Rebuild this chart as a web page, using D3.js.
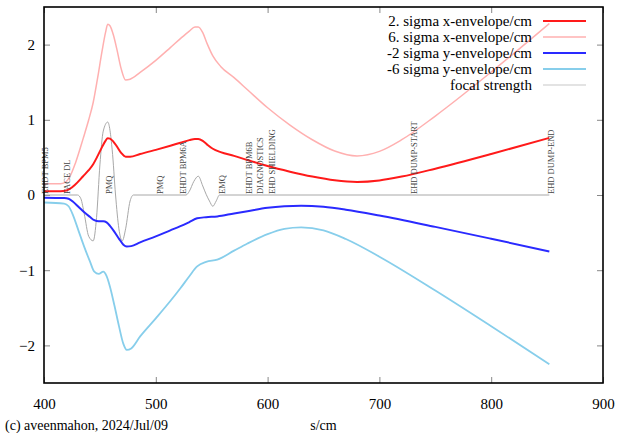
<!DOCTYPE html>
<html><head><meta charset="utf-8">
<script src="https://cdn.jsdelivr.net/npm/d3@7"></script>
<style>body{margin:0;background:#fff}svg{display:block}text{font-family:"Liberation Serif","DejaVu Serif",serif}</style>
</head><body><svg id="c" width="620" height="433"></svg>
<script>
// ---- data ----
const redX  = [400,415,420,423,428,435,440,444,448,452,455,457,459,462,465,469,473,477,486,500,513,522,530,535,538,542,546,551,558,570,582,600,620,640,660,680,700,720,750,800,852];
const redY  = [0.05,0.05,0.06,0.08,0.14,0.25,0.33,0.41,0.52,0.64,0.72,0.755,0.75,0.71,0.65,0.56,0.51,0.51,0.545,0.6,0.655,0.695,0.73,0.745,0.745,0.72,0.67,0.615,0.57,0.52,0.465,0.385,0.31,0.245,0.195,0.173,0.193,0.245,0.35,0.545,0.76];
const pinkY = [0.15,0.15,0.18,0.24,0.42,0.75,1.0,1.23,1.56,1.92,2.16,2.27,2.25,2.13,1.95,1.68,1.53,1.54,1.63,1.79,1.96,2.08,2.18,2.235,2.235,2.16,2.01,1.85,1.71,1.56,1.4,1.16,0.93,0.735,0.585,0.52,0.58,0.735,1.05,1.635,2.28];
const blueX = [400,418,422,426,431,436,441,445,449,453,456,459,463,467,471,474,478,486,500,513,522,530,537,545,555,570,582,600,615,630,650,670,700,750,800,852];
const blueY = [-0.035,-0.04,-0.05,-0.09,-0.16,-0.23,-0.29,-0.335,-0.35,-0.35,-0.365,-0.41,-0.49,-0.58,-0.66,-0.685,-0.68,-0.63,-0.55,-0.47,-0.415,-0.36,-0.31,-0.295,-0.285,-0.245,-0.215,-0.17,-0.15,-0.143,-0.157,-0.195,-0.273,-0.424,-0.582,-0.75];
const lblueY = [-0.1,-0.115,-0.15,-0.27,-0.48,-0.69,-0.88,-1.02,-1.05,-1.02,-1.08,-1.22,-1.47,-1.74,-1.98,-2.06,-2.04,-1.88,-1.64,-1.41,-1.24,-1.08,-0.95,-0.89,-0.86,-0.74,-0.645,-0.52,-0.45,-0.43,-0.47,-0.585,-0.82,-1.27,-1.745,-2.25];
const focX = [400,430,433,436,440,444,447,450,453,457,461,464,467,470,473,477,480,527,530,534,538,542,545,548,551,554,557,852];
const focY = [0,0,-0.05,-0.25,-0.55,-0.61,-0.3,0.4,0.85,0.97,0.6,0.0,-0.45,-0.61,-0.45,-0.08,0,0,0.05,0.18,0.25,0.12,0.01,-0.08,-0.15,-0.08,0,0];
const elemNames = ["EHDT BPM5","FACE DL","PMQ","PMQ","EHDT BPM6A","EMQ","EHDT BPM6B","DIAGNOSTICS","EHD SHIELDING","EHD DUMP-START","EHD DUMP-END"];
const elemPos   = [400.5,420.6,458,503.8,524.3,559,583.4,593.2,604,731,853.5];
const xTicks = [400,500,600,700,800,900];
const yTicks = [-2,-1,0,1,2];
const legendLabels = ["2. sigma x-envelope/cm","6. sigma x-envelope/cm","-2 sigma y-envelope/cm","-6 sigma y-envelope/cm","focal strength"];

// ---- layout ----
const L=44,R=603,T=7,B=383;
const svg=d3.select("#c");
const x=d3.scaleLinear().domain([400,900]).range([L,R]);
const y=d3.scaleLinear().domain([-2.5,2.5]).range([B,T]);

svg.append("clipPath").attr("id","clip").append("rect").attr("x",L).attr("y",T).attr("width",R-L).attr("height",B-T);

// axes
const tickCol="#888";
const gx=svg.append("g").attr("transform",`translate(0,${B})`).call(d3.axisBottom(x).tickValues(xTicks).tickSize(-6).tickPadding(15).tickFormat(d3.format("d")));
const gy=svg.append("g").attr("transform",`translate(${L},0)`).call(d3.axisLeft(y).tickValues(yTicks).tickSize(-6).tickPadding(9).tickFormat(d3.format("d")));
const gt=svg.append("g").attr("transform",`translate(0,${T})`).call(d3.axisTop(x).tickValues(xTicks).tickSize(-6).tickFormat(""));
const gr=svg.append("g").attr("transform",`translate(${R},0)`).call(d3.axisRight(y).tickValues(yTicks).tickSize(-6).tickFormat(""));
[gx,gy,gt,gr].forEach(g=>{g.select(".domain").remove();g.selectAll("line").attr("stroke",tickCol);
  g.selectAll("text").attr("font-size",15).attr("fill","#000").style("font-family","'Liberation Serif',serif");});

const plot=svg.append("g").attr("clip-path","url(#clip)");
const line=(xs,ys)=>d3.line().x((d,i)=>x(xs[i])).y(d=>y(d)).curve(d3.curveMonotoneX)(ys);

// focal strength
plot.append("path").attr("d",line(focX,focY)).attr("fill","none").attr("stroke","#a8a8a8").attr("stroke-width",1);
// element labels
svg.append("g").selectAll("text").data(elemNames).join("text")
  .attr("transform",(d,i)=>`translate(${x(elemPos[i])+3},${y(0)-1}) rotate(-90)`)
  .attr("font-size",8.5).attr("fill","#444").text(d=>d);

const series=[
 {xs:redX,ys:pinkY,c:"#ffb0b0",w:1.5},
 {xs:blueX,ys:lblueY,c:"#87ceeb",w:1.8},
 {xs:redX,ys:redY,c:"#ff1a1a",w:2},
 {xs:blueX,ys:blueY,c:"#2a2aff",w:2},
];
series.forEach(s=>plot.append("path").attr("d",line(s.xs,s.ys)).attr("fill","none").attr("stroke",s.c).attr("stroke-width",s.w));

// frame
svg.append("rect").attr("x",L).attr("y",T).attr("width",R-L).attr("height",B-T).attr("fill","none").attr("stroke","#000").attr("stroke-width",1.6);

// legend
const legCols=["#ff1a1a","#ffb0b0","#2a2aff","#87ceeb","#c8c8c8"];
const legW=[2,1.5,2,1.8,1.2];
const lg=svg.append("g");
legendLabels.forEach((t,i)=>{
  const cy=21+i*16;
  lg.append("text").attr("x",532).attr("y",cy+5).attr("text-anchor","end").attr("font-size",15).text(t);
  lg.append("line").attr("x1",543).attr("x2",586).attr("y1",cy).attr("y2",cy).attr("stroke",legCols[i]).attr("stroke-width",legW[i]);
});

// bottom texts
svg.append("text").attr("x",(L+R)/2).attr("y",430).attr("text-anchor","middle").attr("font-size",14).text("s/cm");
svg.append("text").attr("x",5).attr("y",430).attr("font-size",14).text("(c) aveenmahon, 2024/Jul/09");
</script></body></html>
